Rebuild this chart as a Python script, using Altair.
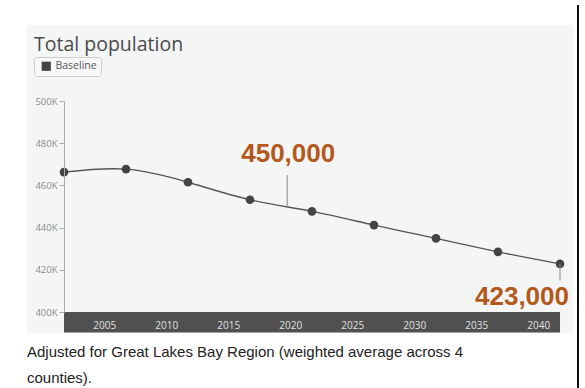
import altair as alt
import pandas as pd

# ---- data ----
years = [2002, 2007, 2012, 2017, 2022, 2027, 2032, 2037, 2042]
population = [466300, 467700, 461500, 453200, 447700, 441200, 434900, 428500, 422800]
series_name = "Baseline"

x_tick_years = [2005, 2010, 2015, 2020, 2025, 2030, 2035, 2040]
y_tick_values = [400000, 420000, 440000, 460000, 480000, 500000]

ann_years = [2020, 2042]
ann_curve_values = [449300, 422800]
ann_rule_ends = [464900, 415000]
ann_text_values = [471300, 403200]
ann_labels = ["450,000", "423,000"]

title_text = "Total population"
caption_text = "Adjusted for Great Lakes Bay Region (weighted average across 4\ncounties)."

W, H = 496, 211
ORANGE = "#b5581c"

df = pd.DataFrame({"year": years, "population": population, "series": [series_name] * len(years)})
ann = pd.DataFrame({"year": ann_years, "v": ann_curve_values, "v2": ann_rule_ends,
                    "tv": ann_text_values, "label": ann_labels})
one = pd.DataFrame({"k": [0]})

xscale = alt.Scale(domain=[2002, 2042], nice=False, zero=False)
yscale = alt.Scale(domain=[400000, 500000], nice=False, zero=False)

# background panel
panel = alt.Chart(one).mark_rect(color="#f4f6f6").encode(
    x=alt.value(-37), x2=alt.value(509), y=alt.value(-76), y2=alt.value(232)
)
# dark axis band
band = alt.Chart(one).mark_rect(color="#505050").encode(
    x=alt.value(0), x2=alt.value(W), y=alt.value(H), y2=alt.value(H + 20.5)
)
# page edge line on the right
edge = alt.Chart(one).mark_rule(color="#111", strokeWidth=2).encode(
    x=alt.value(514), y=alt.value(-96), y2=alt.value(287)
)

x_enc = alt.X("year:Q", scale=xscale, title=None,
              axis=alt.Axis(values=x_tick_years, format="d", domain=False, ticks=False, tickSize=0,
                            labelColor="#e0e0e0", labelFontSize=10, labelPadding=8,
                            labelFont="Open Sans", grid=False, zindex=2, labelOffset=3))
y_enc = alt.Y("population:Q", scale=yscale, title=None,
              axis=alt.Axis(values=y_tick_values, labelExpr="datum.value/1000 + 'K'",
                            domainColor="#aaaaaa", tickColor="#aaaaaa", tickSize=5,
                            labelColor="#8a8a8a", labelFontSize=9.5, labelFont="Open Sans",
                            labelPadding=2, grid=False, zindex=2))

line = alt.Chart(df).mark_line(color="#555555", strokeWidth=1.4, interpolate="natural").encode(
    x=x_enc, y=y_enc
)
points = alt.Chart(df).mark_point(filled=True, size=75, opacity=1).encode(
    x="year:Q", y="population:Q",
    color=alt.Color("series:N", scale=alt.Scale(range=["#444444"]),
                    legend=alt.Legend(orient="none", legendX=-30, legendY=-44, title=None,
                                      symbolType="square", symbolSize=85, symbolStrokeWidth=0,
                                      labelFontSize=10.5, labelColor="#555555", labelFont="Open Sans",
                                      fillColor="#f8f8f8", strokeColor="#cccccc", cornerRadius=3,
                                      padding=4, symbolOffset=3))
)

ann_rule = alt.Chart(ann).mark_rule(color="#888888", strokeWidth=1).encode(
    x=alt.X("year:Q", scale=xscale), y=alt.Y("v:Q", scale=yscale), y2="v2:Q"
)
ann_text1 = alt.Chart(ann).transform_filter(alt.datum.year == 2020).mark_text(
    align="center", baseline="alphabetic", fontSize=26, fontWeight="bold",
    font="Liberation Sans", color=ORANGE, dx=1
).encode(x=alt.X("year:Q", scale=xscale), y=alt.Y("tv:Q", scale=yscale), text="label:N")
ann_text2 = alt.Chart(ann).transform_filter(alt.datum.year == 2042).mark_text(
    align="right", baseline="alphabetic", fontSize=26, fontWeight="bold",
    font="Liberation Sans", color=ORANGE, dx=9
).encode(x=alt.X("year:Q", scale=xscale), y=alt.Y("tv:Q", scale=yscale), text="label:N")

title = alt.Chart(one).mark_text(
    text=title_text, align="left", baseline="alphabetic", fontSize=19.5,
    font="Open Sans", color="#4a4a4a"
).encode(x=alt.value(-30), y=alt.value(-50.5))

caption = alt.Chart(one).mark_text(
    text=caption_text, align="left", baseline="alphabetic", fontSize=15,
    font="Liberation Sans", color="#222222", lineBreak="\n", lineHeight=26.5
).encode(x=alt.value(-37), y=alt.value(255.7))

chart = alt.layer(panel, band, edge, line, points, ann_rule, ann_text1, ann_text2, title, caption).properties(
    width=W, height=H,
    padding={"left": 64, "top": 101, "right": 25, "bottom": 76},
    autosize=alt.AutoSizeParams(type="none"),
    background="white",
).configure_view(stroke=None)

chart.save("out.html", embed_options={"renderer": "svg", "actions": False})
